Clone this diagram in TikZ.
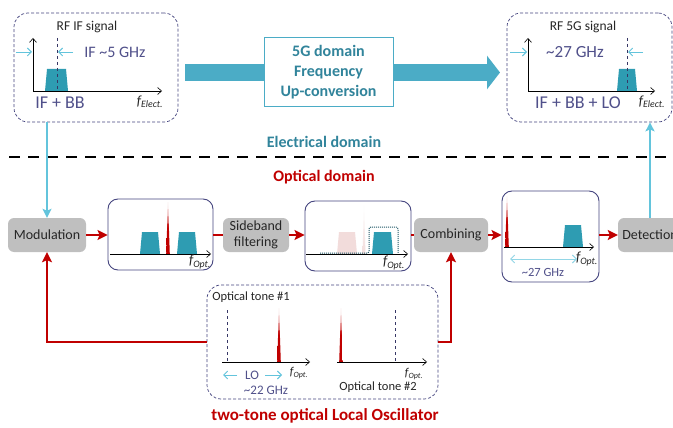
\documentclass[tikz,border=0pt]{standalone}
\usepackage{fontspec}
\setmainfont{Carlito}
\usepackage{xcolor}
\usepackage{tikz}
\usetikzlibrary{arrows.meta}
\usetikzlibrary{calc}

\definecolor{tealarrow}{HTML}{4BACC6}
\definecolor{tealband}{HTML}{2E9CB2}
\definecolor{tealtext}{HTML}{31849B}
\definecolor{cyanline}{HTML}{63C4DC}
\definecolor{optred}{HTML}{C00000}
\definecolor{boxgray}{HTML}{BFBFBF}
\definecolor{frameblue}{HTML}{45457F}
\definecolor{slate}{HTML}{50508A}
\definecolor{fadepink}{HTML}{F2DCDB}
\definecolor{filterteal}{HTML}{205867}

\tikzstyle{block} = [fill=boxgray, rounded corners=6, align=center, inner sep=1pt, text=black!85, font=\fontsize{14}{16.5}\selectfont]
\tikzstyle{plotbox} = [draw=frameblue, line width=0.9pt, rounded corners=10pt, fill=white]
\tikzstyle{sigbox} = [draw=frameblue, densely dashed, line width=0.7pt, rounded corners=14pt, fill=white]
\tikzstyle{redarrow} = [draw=optred, line width=2.4pt, -{Stealth[length=10pt, width=10pt, inset=2pt]}]
\tikzstyle{redline} = [draw=optred, line width=2.4pt]
\tikzstyle{bluearrow} = [draw=cyanline, line width=2pt, -{Stealth[length=9pt, width=9pt, inset=2pt]}]
\tikzstyle{bigarrow} = [draw=tealarrow, line width=17pt]
\tikzstyle{axis} = [draw=black, line width=0.6pt]
\tikzstyle{marker} = [draw=cyanline, line width=0.9pt, -{Straight Barb[length=4pt, width=8pt]}]
\tikzstyle{guide} = [draw=frameblue!80!black, dashed, line width=0.7pt]
\tikzstyle{band} = [fill=tealband]
\tikzstyle{title} = [inner sep=0, text=black!85, font=\fontsize{13.5}{15}\selectfont]
\tikzstyle{flabel} = [inner sep=0, text=black!85, font=\itshape\fontsize{14}{16}\selectfont]
\tikzstyle{value} = [inner sep=0, text=slate]

\begin{document}
\begin{tikzpicture}[x=1pt, y=-1pt]
	\useasboundingbox (0,0) rectangle (673,428) ;
	\clip (0,0) rectangle (673,428) ;

	\node[sigbox, minimum width=164pt, minimum height=109pt] (tl) at (96,67.5) {} ;
	\node[sigbox, minimum width=165pt, minimum height=109pt] (tr) at (589.5,67.5) {} ;
	\node[sigbox, minimum width=231pt, minimum height=114pt] (lo) at (322.5,342) {} ;
	\node[draw=tealarrow, line width=1pt, fill=white, align=center, text=tealtext, minimum width=129pt, minimum height=69pt, font=\bfseries\fontsize{16}{20}\selectfont] (upconv) at (328.5,72.5) {5G domain\\Frequency\\Up-conversion} ;

	\node[block, minimum width=78pt, minimum height=34pt] (mod) at (47,235) {Modulation} ;
	\node[block, minimum width=66pt, minimum height=34pt] (side) at (256,235) {Sideband\\filtering} ;
	\node[block, minimum width=74pt, minimum height=34pt] (comb) at (451,235) {Combining} ;
	\node[block, minimum width=64pt, minimum height=34pt] (det) at (650,235) {Detection} ;

	\node[plotbox, minimum width=105pt, minimum height=71pt] (b1) at (160.5,234.5) {} ;
	\node[plotbox, minimum width=106pt, minimum height=70pt] (b2) at (358,236) {} ;
	\node[plotbox, minimum width=97pt, minimum height=91pt] (b3) at (550.5,236.5) {} ;

	\coordinate (bigstart) at (185,72.5) ;
	\coordinate (bigend) at (500,72.5) ;
	\draw[bigarrow] (bigstart) -- (upconv.west) ;
	\draw[bigarrow, -{Triangle[length=13pt, width=33pt]}] (upconv.east) -- (bigend) ;

	\node[inner sep=0, text=tealtext, font=\bfseries\fontsize{16}{18}\selectfont] (elec) at (324,142) {Electrical domain} ;
	\node[inner sep=0, text=optred, font=\bfseries\fontsize{16}{18}\selectfont] (optd) at (324,177) {Optical domain} ;
	\draw[line width=2.4pt, dash pattern=on 11pt off 8pt] (9,157) -- (673,157) ;

	% RF IF signal
	\node[title] at (87,27) {RF IF signal} ;
	\fill[band] (45,91) -- (47,69) -- (66,69) -- (68,91) -- cycle ;
	\draw[guide] (57,38) -- (57,91) ;
	\draw[axis, {Straight Barb[length=4pt, width=7pt]}-{Straight Barb[length=4pt, width=7pt]}] (33,38) -- (33,91) -- (162,91) ;
	\draw[marker] (16,52) -- (32,52) ;
	\draw[marker] (73,52) -- (58,52) ;
	\node[value, font=\fontsize{16}{18}\selectfont] at (115,52) {IF \textasciitilde5 GHz} ;
	\node[value, font=\fontsize{18}{20}\selectfont] at (60,103) {IF + BB} ;
	\node[flabel] at (150,102) {f\textsubscript{Elect.}} ;

	% RF 5G signal
	\node[title] at (583,27) {RF 5G signal} ;
	\fill[band] (617,91) -- (619,69) -- (635,69) -- (637,91) -- cycle ;
	\draw[guide] (627,38) -- (627,91) ;
	\draw[axis, {Straight Barb[length=4pt, width=7pt]}-{Straight Barb[length=4pt, width=7pt]}] (528,38) -- (528,91) -- (655,91) ;
	\draw[marker] (510,52) -- (527,52) ;
	\draw[marker] (643,52) -- (628,52) ;
	\node[value, font=\fontsize{17}{19}\selectfont] at (575,52) {\textasciitilde27 GHz} ;
	\node[value, font=\fontsize{18}{20}\selectfont] at (578,103) {IF + BB + LO} ;
	\node[flabel] at (652,102) {f\textsubscript{Elect.}} ;

	% spectra in the optical chain
	\foreach \a/\b/\t/\y in {140/160/232/254, 177/197/232/254, 372/393/232/254, 563/583/225/247}
	{
		\fill[band] (\a,\y) -- (\a+2,\t) -- (\b-2,\t) -- (\b,\y) -- cycle ;
	}
	\fill[fadepink] (337,254) -- (339,232) -- (355,232) -- (357,254) -- cycle ;
	\shade[top color=white, bottom color=fadepink] (362.5,254) -- (364,204) -- (365.5,254) -- cycle ;
	\foreach \x/\t/\y in {168/202/254, 507/196/247, 279/308/362, 341/308/362}
	{
		\shade[top color=optred!15, bottom color=optred, middle color=optred] (\x-1.8,\y) -- (\x,\t) -- (\x+1.8,\y) -- cycle ;
	}
	\draw[filterteal, densely dotted, line width=1pt, rounded corners=2pt] (320,253) -- (369,253) -- (369,227) -- (398,227) -- (398,253) ;
	\draw[axis, -{Straight Barb[length=4pt, width=7pt]}] (110,254) -- (211,254) ;
	\draw[axis, -{Straight Barb[length=4pt, width=7pt]}] (306,254) -- (408,254) ;
	\draw[axis, -{Straight Barb[length=4pt, width=7pt]}] (504,247) -- (594,247) ;
	\node[flabel] at (200,262) {f\textsubscript{Opt.}} ;
	\node[flabel] at (394,263) {f\textsubscript{Opt.}} ;
	\node[flabel] at (587,259) {f\textsubscript{Opt.}} ;
	\draw[marker, draw=cyanline!70, {Straight Barb[length=4pt, width=8pt]}-{Straight Barb[length=4pt, width=8pt]}] (510,259) -- (577,259) ;
	\node[value, font=\fontsize{12.5}{14}\selectfont] at (543,272) {\textasciitilde27 GHz} ;

	% two-tone optical LO
	\node[title, font=\fontsize{12.5}{14}\selectfont] at (251,297) {Optical tone \#1} ;
	\node[title, font=\fontsize{12.5}{14}\selectfont] at (378,387) {Optical tone \#2} ;
	\draw[guide] (227,310) -- (227,362) ;
	\draw[guide] (395,310) -- (395,362) ;
	\draw[axis, -{Straight Barb[length=4pt, width=7pt]}] (222,362) -- (310,362) ;
	\draw[axis, -{Straight Barb[length=4pt, width=7pt]}] (337,362) -- (427,362) ;
	\node[flabel, font=\itshape\fontsize{12}{14}\selectfont] at (299,373) {f\textsubscript{Opt.}} ;
	\node[flabel, font=\itshape\fontsize{12}{14}\selectfont] at (414,374) {f\textsubscript{Opt.}} ;
	\draw[marker] (237,375) -- (223,375) ;
	\draw[marker] (265,375) -- (282,375) ;
	\node[value, font=\fontsize{13}{15}\selectfont] at (252,375) {LO} ;
	\node[value, font=\fontsize{13}{15}\selectfont] at (266,390) {\textasciitilde22 GHz} ;
	\node[inner sep=0, text=optred, font=\bfseries\fontsize{17}{19}\selectfont] (lotitle) at (325,416) {two-tone optical Local Oscillator} ;

	\draw[redarrow] (mod.east) -- (mod.east -| b1.west) ;
	\draw[redline] (b1.east |- side.west) -- (side.west) ;
	\draw[redarrow] (side.east) -- (side.east -| b2.west) ;
	\draw[redline] (b2.east |- comb.west) -- (comb.west) ;
	\draw[redarrow] (comb.east) -- (comb.east -| b3.west) ;
	\draw[redarrow] (b3.east |- det.west) -- (det.west) ;
	\draw[redarrow] (lo.west) -| (mod.south) ;
	\draw[redarrow] (lo.east) -| (comb.south) ;

	\draw[bluearrow] (mod.north |- tl.south) -- (mod.north) ;
	\draw[bluearrow] (det.north) -- (det.north |- tr.south) ;
\end{tikzpicture}
\end{document}
